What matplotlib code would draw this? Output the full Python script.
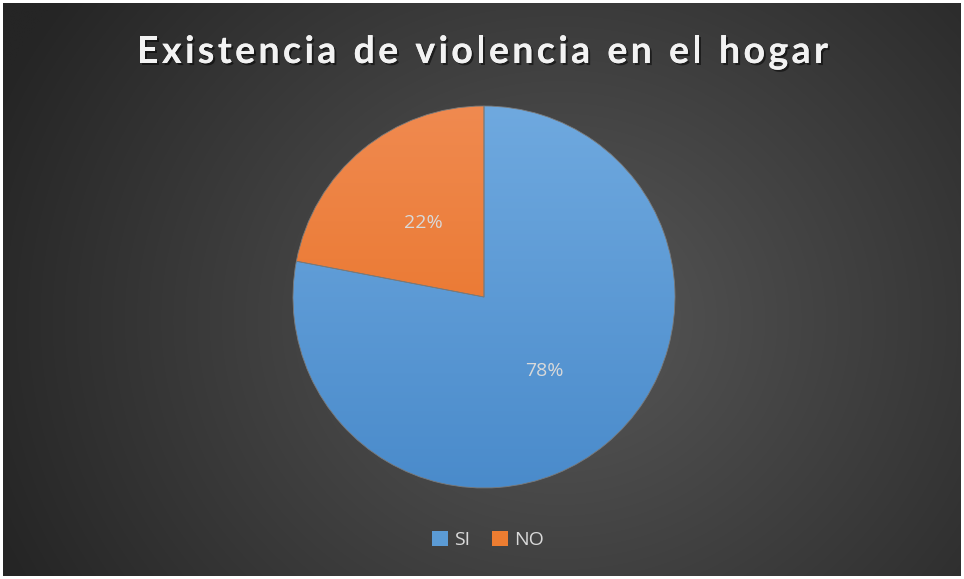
import numpy as np
import matplotlib
matplotlib.use("Agg")
import matplotlib.pyplot as plt
import matplotlib.patheffects as pe
from matplotlib.colors import LinearSegmentedColormap

categories = ["SI", "NO"]
values = [78, 22]
colors_top = ["#6fa9df", "#f08a50"]
colors_bot = ["#4a8bcb", "#e66c1b"]
title = "Existencia de violencia en el hogar"

W, H = 964, 579
fig = plt.figure(figsize=(W / 100, H / 100), dpi=100)
fig.patch.set_facecolor("white")

# background radial gradient
bg = fig.add_axes([3 / W, 3 / H, (W - 6) / W, (H - 6) / H])
bg.set_axis_off()
yy, xx = np.mgrid[0:H, 0:W]
cx, cy = 560, 320
d = np.sqrt(((xx - cx) / 620.0) ** 2 + ((yy - cy) / 560.0) ** 2)
d = np.clip(d, 0, 1)
light = np.array([0x58, 0x58, 0x58]) / 255
dark = np.array([0x25, 0x25, 0x25]) / 255
img = light[None, None, :] * (1 - d[..., None]) + dark[None, None, :] * d[..., None]
bg.imshow(img, aspect="auto", extent=[0, 1, 0, 1], origin="upper")
bg.set_xlim(0, 1)
bg.set_ylim(0, 1)

# pie axes
r_px = 191
cxp, cyp = 484, 297
ax = fig.add_axes([(cxp - r_px) / W, (H - cyp - r_px) / H, 2 * r_px / W, 2 * r_px / H])
ax.set_axis_off()
wedges, _ = ax.pie(values, startangle=90, counterclock=False, radius=1,
                   colors=colors_bot, wedgeprops=dict(linewidth=0.6, edgecolor="#7a7a7a"))
ax.set_xlim(-1, 1)
ax.set_ylim(-1, 1)
ax.set_aspect("auto")
grad = np.linspace(1, 0, 256)[:, None]
for w, ct, cb in zip(wedges, colors_top, colors_bot):
    cmap = LinearSegmentedColormap.from_list("g", [cb, ct])
    im = ax.imshow(grad, cmap=cmap, extent=[-1, 1, -1, 1], aspect="auto", zorder=1.5)
    im.set_clip_path(w)
    w.set_facecolor("none")
    w.set_zorder(2)

# labels
tot = sum(values)
ang = 90.0
for v in values:
    mid = np.deg2rad(ang - v / tot * 360 / 2)
    ang -= v / tot * 360
    x, y = 0.5 * np.cos(mid), 0.5 * np.sin(mid)
    ax.text(x, y, f"{v}%", ha="center", va="center", color="#d9d9d9", fontsize=14,
            family=["Open Sans", "DejaVu Sans"], zorder=3)

# title with letter spacing
renderer = fig.canvas.get_renderer()
tfont = dict(fontsize=27, fontweight="bold", family=["Lato", "DejaVu Sans"])
effects = [pe.withSimplePatchShadow(offset=(1.5, -1.5), shadow_rgbFace="black", alpha=0.5), pe.Normal()]
widths = []
for ch in title:
    t = fig.text(0, 0, ch if ch != " " else "a", **tfont)
    widths.append(t.get_window_extent(renderer).width * (0.55 if ch == " " else 1.0))
    t.remove()
x0, x1 = 137, 828
gap = (x1 - x0 - sum(widths)) / (len(title) - 1)
xpos = x0
base_y = 1 - 63 / H
for ch, wch in zip(title, widths):
    if ch != " ":
        fig.text(xpos / W, base_y, ch, ha="left", va="baseline", color="#f2f2f2",
                 path_effects=effects, **tfont)
    xpos += wch + gap

# legend
handles = [plt.Rectangle((0, 0), 1, 1, facecolor=c) for c in ["#5b9bd5", "#ed7d31"]]
leg = fig.legend(handles, categories, loc="center", bbox_to_anchor=(488 / W, 1 - 540 / H),
                 ncol=2, frameon=False, labelcolor="#d9d9d9",
                 handlelength=0.85, handleheight=0.85, handletextpad=0.3, columnspacing=1.1,
                 prop={"family": "Open Sans", "size": 14})

fig.savefig("out.png", dpi=100, facecolor="white")
